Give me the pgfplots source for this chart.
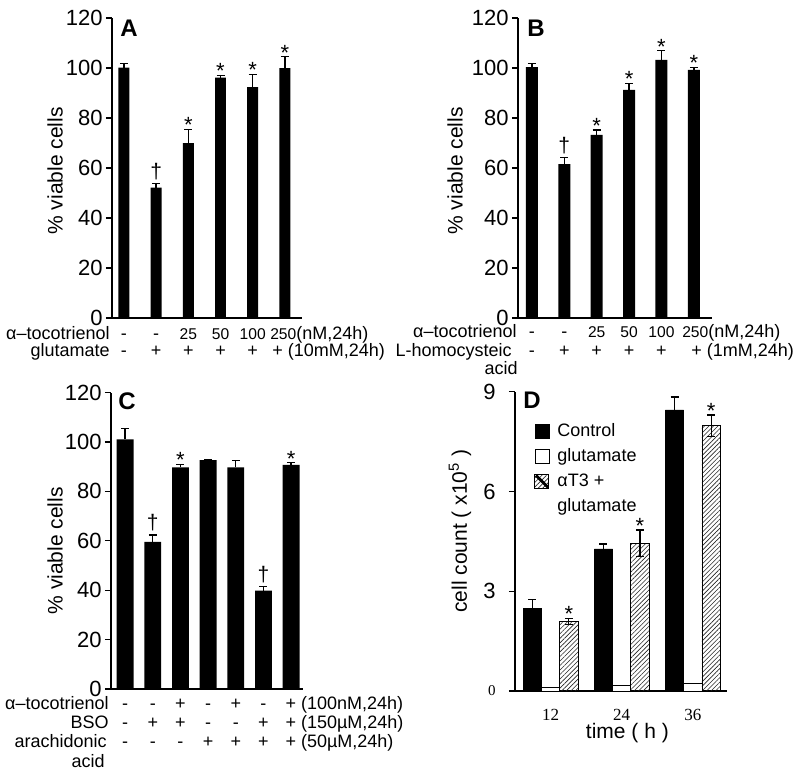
\documentclass[border=0pt]{standalone}
\usepackage{pgfplots}
\pgfplotsset{compat=1.18}
\usepackage{fontspec}
\setmainfont{Liberation Sans}
\newfontfamily\timesfont{Liberation Serif}
\usetikzlibrary{patterns.meta}

\protected\def\num#1{{\fontsize{7.8}{9}\selectfont #1}}
% one row of treatment symbols under the bars, at x = 0,1,2,...
\newcommand\symrow[2]{%
  \foreach \s [count=\i from 0] in {#2}{%
    \edef\tmp{\noexpand\node[rowtxt, anchor=base] at (axis cs:\i,0) [yshift=#1] {\s};}%
    \tmp}}

\tikzset{
  plabel/.style={anchor=north west, inner sep=0pt, font=\bfseries\fontsize{12}{12}\selectfont},
  rowtxt/.style={inner sep=0pt, font=\fontsize{9}{10}\selectfont},
  ylab/.style={inner sep=0pt, anchor=center, xshift=#1, rotate=90, font=\fontsize{10.5}{12}\selectfont},
}

\pgfplotsset{
  panel/.style={
    scale only axis, anchor=south west, clip=false,
    axis lines=left, axis line style={-, line width=0.6pt},
    tick align=outside, major tick length=3pt,
    tick style={line width=0.6pt, black},
    /pgf/number format/assume math mode=true,
    yticklabel style={font=\fontsize{11}{12}\selectfont, inner sep=1.5pt},
  },
  viab/.style={panel, xtick=\empty, ymin=0, ymax=120, ytick={0,20,...,120}},
  bars/.style={ybar, bar shift=0pt, bar width=#1, fill=black, draw=none,
    error bars/y dir=plus, error bars/y explicit,
    error bars/error bar style={line width=0.7pt, black},
    error bars/error mark options={rotate=90, mark size=2pt, line width=0.7pt, black}},
  errs/.style={error bars/y dir=both, error bars/y explicit,
    error bars/error bar style={line width=0.6pt, black},
    error bars/error mark options={rotate=90, mark size=2pt, line width=0.6pt, black}},
  stars/.style={forget plot, draw=none, mark=none, nodes near coords={*},
    every node near coord/.append style={anchor=base, yshift=-1.8pt, inner sep=0pt,
      font=\fontsize{11}{11}\selectfont}},
  daggers/.style={forget plot, draw=none, mark=none, nodes near coords={†},
    every node near coord/.append style={anchor=base, yshift=2.6pt, inner sep=0pt,
      font=\fontsize{10.5}{11}\selectfont}},
  sqlegend/.style={legend image code/.code={\draw[##1] (0pt,-3.5pt) rectangle (7pt,3.5pt);}},
  hatchlegend/.style={legend image code/.code={\draw[line width=0.5pt] (0pt,-3.5pt) rectangle (7pt,3.5pt);
    \draw[line width=1.4pt] (0.5pt,3pt) -- (6.5pt,-3pt);}},
}

\begin{document}
\begin{tikzpicture}
\useasboundingbox (0,0) rectangle (400pt,391pt);

% ---------------- A
\begin{axis}[viab, at={(56pt,232pt)}, width=95pt, height=150pt,
  xmin=-0.37, xmax=5.53]
\addplot[bars=0.34] table[x=x, y=y, y error=e] {
x y e
0 100.1 1.8
1 52.1 1.8
2 69.9 5.6
3 96.1 1.0
4 92.3 5.2
5 99.9 4.6
};
\addplot[daggers] coordinates {(1,53.9)};
\addplot[stars] coordinates {(2,75.5) (3,97.1) (4,97.5) (5,104.5)};
\node[plabel] at (rel axis cs:0,1) [xshift=4pt, yshift=-1pt] {A};
\node[ylab=-28.5pt] at (rel axis cs:0,0.49) {\% viable cells};
\symrow{-10.75pt}{-,-,\num{25},\num{50},\num{100}}
\symrow{-19.5pt}{-,+,+,+,+}
\node[rowtxt, anchor=base west] at (axis cs:5,0) [xshift=-7.5pt, yshift=-10.75pt] {\num{250}(nM,24h)};
\node[rowtxt, anchor=base west] at (axis cs:5,0) [xshift=-6.5pt, yshift=-19.5pt] {+ (10mM,24h)};
\node[rowtxt, anchor=base east] at (rel axis cs:0,0) [xshift=-1pt, yshift=-10.75pt] {α–tocotrienol};
\node[rowtxt, anchor=base east] at (rel axis cs:0,0) [xshift=-1pt, yshift=-19.5pt] {glutamate};
\end{axis}

% ---------------- B
\begin{axis}[viab, at={(259pt,232pt)}, width=97pt, height=150pt,
  xmin=-0.43, xmax=5.56]
\addplot[bars=0.37] table[x=x, y=y, y error=e] {
x y e
0 100.3 1.6
1 61.5 2.6
2 73.2 2.0
3 91.2 2.7
4 103.2 3.7
5 99.2 1.1
};
\addplot[daggers] coordinates {(1,64.1)};
\addplot[stars] coordinates {(2,75.2) (3,93.9) (4,106.9) (5,100.3)};
\node[plabel] at (rel axis cs:0,1) [xshift=4.5pt, yshift=-1pt] {B};
\node[ylab=-31.5pt] at (rel axis cs:0,0.49) {\% viable cells};
\symrow{-10pt}{-,-,\num{25},\num{50},\num{100}}
\symrow{-19.5pt}{-,+,+,+,+}
\node[rowtxt, anchor=base west] at (axis cs:5,0) [xshift=-6pt, yshift=-10pt] {\num{250}(nM,24h)};
\node[rowtxt, anchor=base west] at (axis cs:5,0) [xshift=-1.5pt, yshift=-19.5pt] {+ (1mM,24h)};
\node[rowtxt, anchor=base east] at (rel axis cs:0,0) [xshift=-0.5pt, yshift=-10pt] {α–tocotrienol};
\node[rowtxt, anchor=base east] at (rel axis cs:0,0) [xshift=-3pt, yshift=-19.5pt] {L-homocysteic};
\node[rowtxt, anchor=base east] at (rel axis cs:0,0) [xshift=0pt, yshift=-28.5pt] {acid};
\end{axis}

% ---------------- C
\begin{axis}[viab, at={(55.5pt,46.5pt)}, width=96pt, height=148.2pt,
  xmin=-0.51, xmax=6.43]
\addplot[bars=0.61] table[x=x, y=y, y error=e] {
x y e
0 101.1 4.4
1 59.6 2.7
2 89.7 1.3
3 92.7 0.0
4 89.7 2.7
5 39.8 1.6
6 90.7 0.9
};
\addplot[daggers] coordinates {(1,62.3) (5,41.4)};
\addplot[stars] coordinates {(2,91.0) (6,91.6)};
\node[plabel] at (rel axis cs:0,1) [xshift=3.5pt, yshift=0pt] {C};
\node[ylab=-28pt] at (rel axis cs:0,0.466) {\% viable cells};
\symrow{-10.5pt}{-,-,+,-,+,-}
\symrow{-20pt}{-,+,+,-,-,+}
\symrow{-29.5pt}{-,-,-,+,+,+}
\node[rowtxt, anchor=base west] at (axis cs:6,0) [xshift=-3pt, yshift=-10.5pt] {+ (100nM,24h)};
\node[rowtxt, anchor=base west] at (axis cs:6,0) [xshift=-3pt, yshift=-20pt] {+ (150µM,24h)};
\node[rowtxt, anchor=base west] at (axis cs:6,0) [xshift=-3pt, yshift=-29.5pt] {+ (50µM,24h)};
\node[rowtxt, anchor=base east] at (rel axis cs:0,0) [xshift=-1pt, yshift=-10.5pt] {α–tocotrienol};
\node[rowtxt, anchor=base east] at (rel axis cs:0,0) [xshift=-1pt, yshift=-20pt] {BSO};
\node[rowtxt, anchor=base east] at (rel axis cs:0,0) [xshift=-2pt, yshift=-29.5pt] {arachidonic};
\node[rowtxt, anchor=base east] at (rel axis cs:0,0) [xshift=-3pt, yshift=-39.2pt] {acid};
\end{axis}

% ---------------- D
\begin{axis}[panel, at={(257.5pt,45.5pt)}, width=106pt, height=149.65pt,
  xmin=-0.5, xmax=2.48, ymin=0, ymax=9,
  ytick={0,3,6,9}, yticklabels={{\timesfont\fontsize{7.5}{8}\selectfont 0},3,6,9},
  yticklabel style={xshift=-5pt},
  xtick={0,1,2}, xticklabels={12,24,36}, xtick style={draw=none},
  xticklabel style={font=\timesfont\fontsize{8.5}{9}\selectfont, anchor=base, yshift=-12pt},
  legend style={draw=none, fill=none, at={(rel axis cs:0.09,0.905)}, anchor=north west,
    font=\fontsize{9}{10}\selectfont, row sep=1.5pt, inner sep=0pt,
    nodes={inner sep=1.5pt},
    /tikz/every odd column/.append style={column sep=2.5pt}},
  legend cell align=left]
\addplot[ybar, bar width=0.257, bar shift=0pt, fill=black, draw=black, line width=0.4pt,
  errs, sqlegend]
  table[x expr=\thisrow{x}-0.257, y=y, y error=e] {
x y e
0 2.49 0.25
1 4.27 0.15
2 8.45 0.39
};
\addlegendentry{Control}
\addplot[ybar, bar width=0.257, bar shift=0pt, fill=white, draw=black, line width=0.4pt, sqlegend]
  table[x=x, y=y] {
x y
0 0.11
1 0.16
2 0.23
};
\addlegendentry{glutamate}
\addplot[ybar, bar width=0.257, bar shift=0pt, draw=black, line width=0.4pt,
  pattern={Lines[angle=45, distance=1.6pt, line width=0.3pt]}, pattern color=black!85,
  errs, hatchlegend]
  table[x expr=\thisrow{x}+0.257, y=y, y error=e] {
x y e
0 2.10 0.09
1 4.44 0.40
2 7.98 0.32
};
\addlegendentry{αT3 +}
\addlegendimage{empty legend}
\addlegendentry{glutamate}
\addplot[stars] coordinates {(0.257,2.19) (1.257,4.84) (2.257,8.30)};
\node[plabel] at (rel axis cs:0,1) [xshift=4pt, yshift=0pt] {D};
\node[ylab=-27.5pt] at (rel axis cs:0,0.534) {cell count ( x10\textsuperscript{5} )};
\node[anchor=center, inner sep=0pt, font=\fontsize{10.5}{12}\selectfont] at (rel axis cs:0.53,0) [yshift=-21pt] {time ( h )};
\end{axis}
\end{tikzpicture}
\end{document}
